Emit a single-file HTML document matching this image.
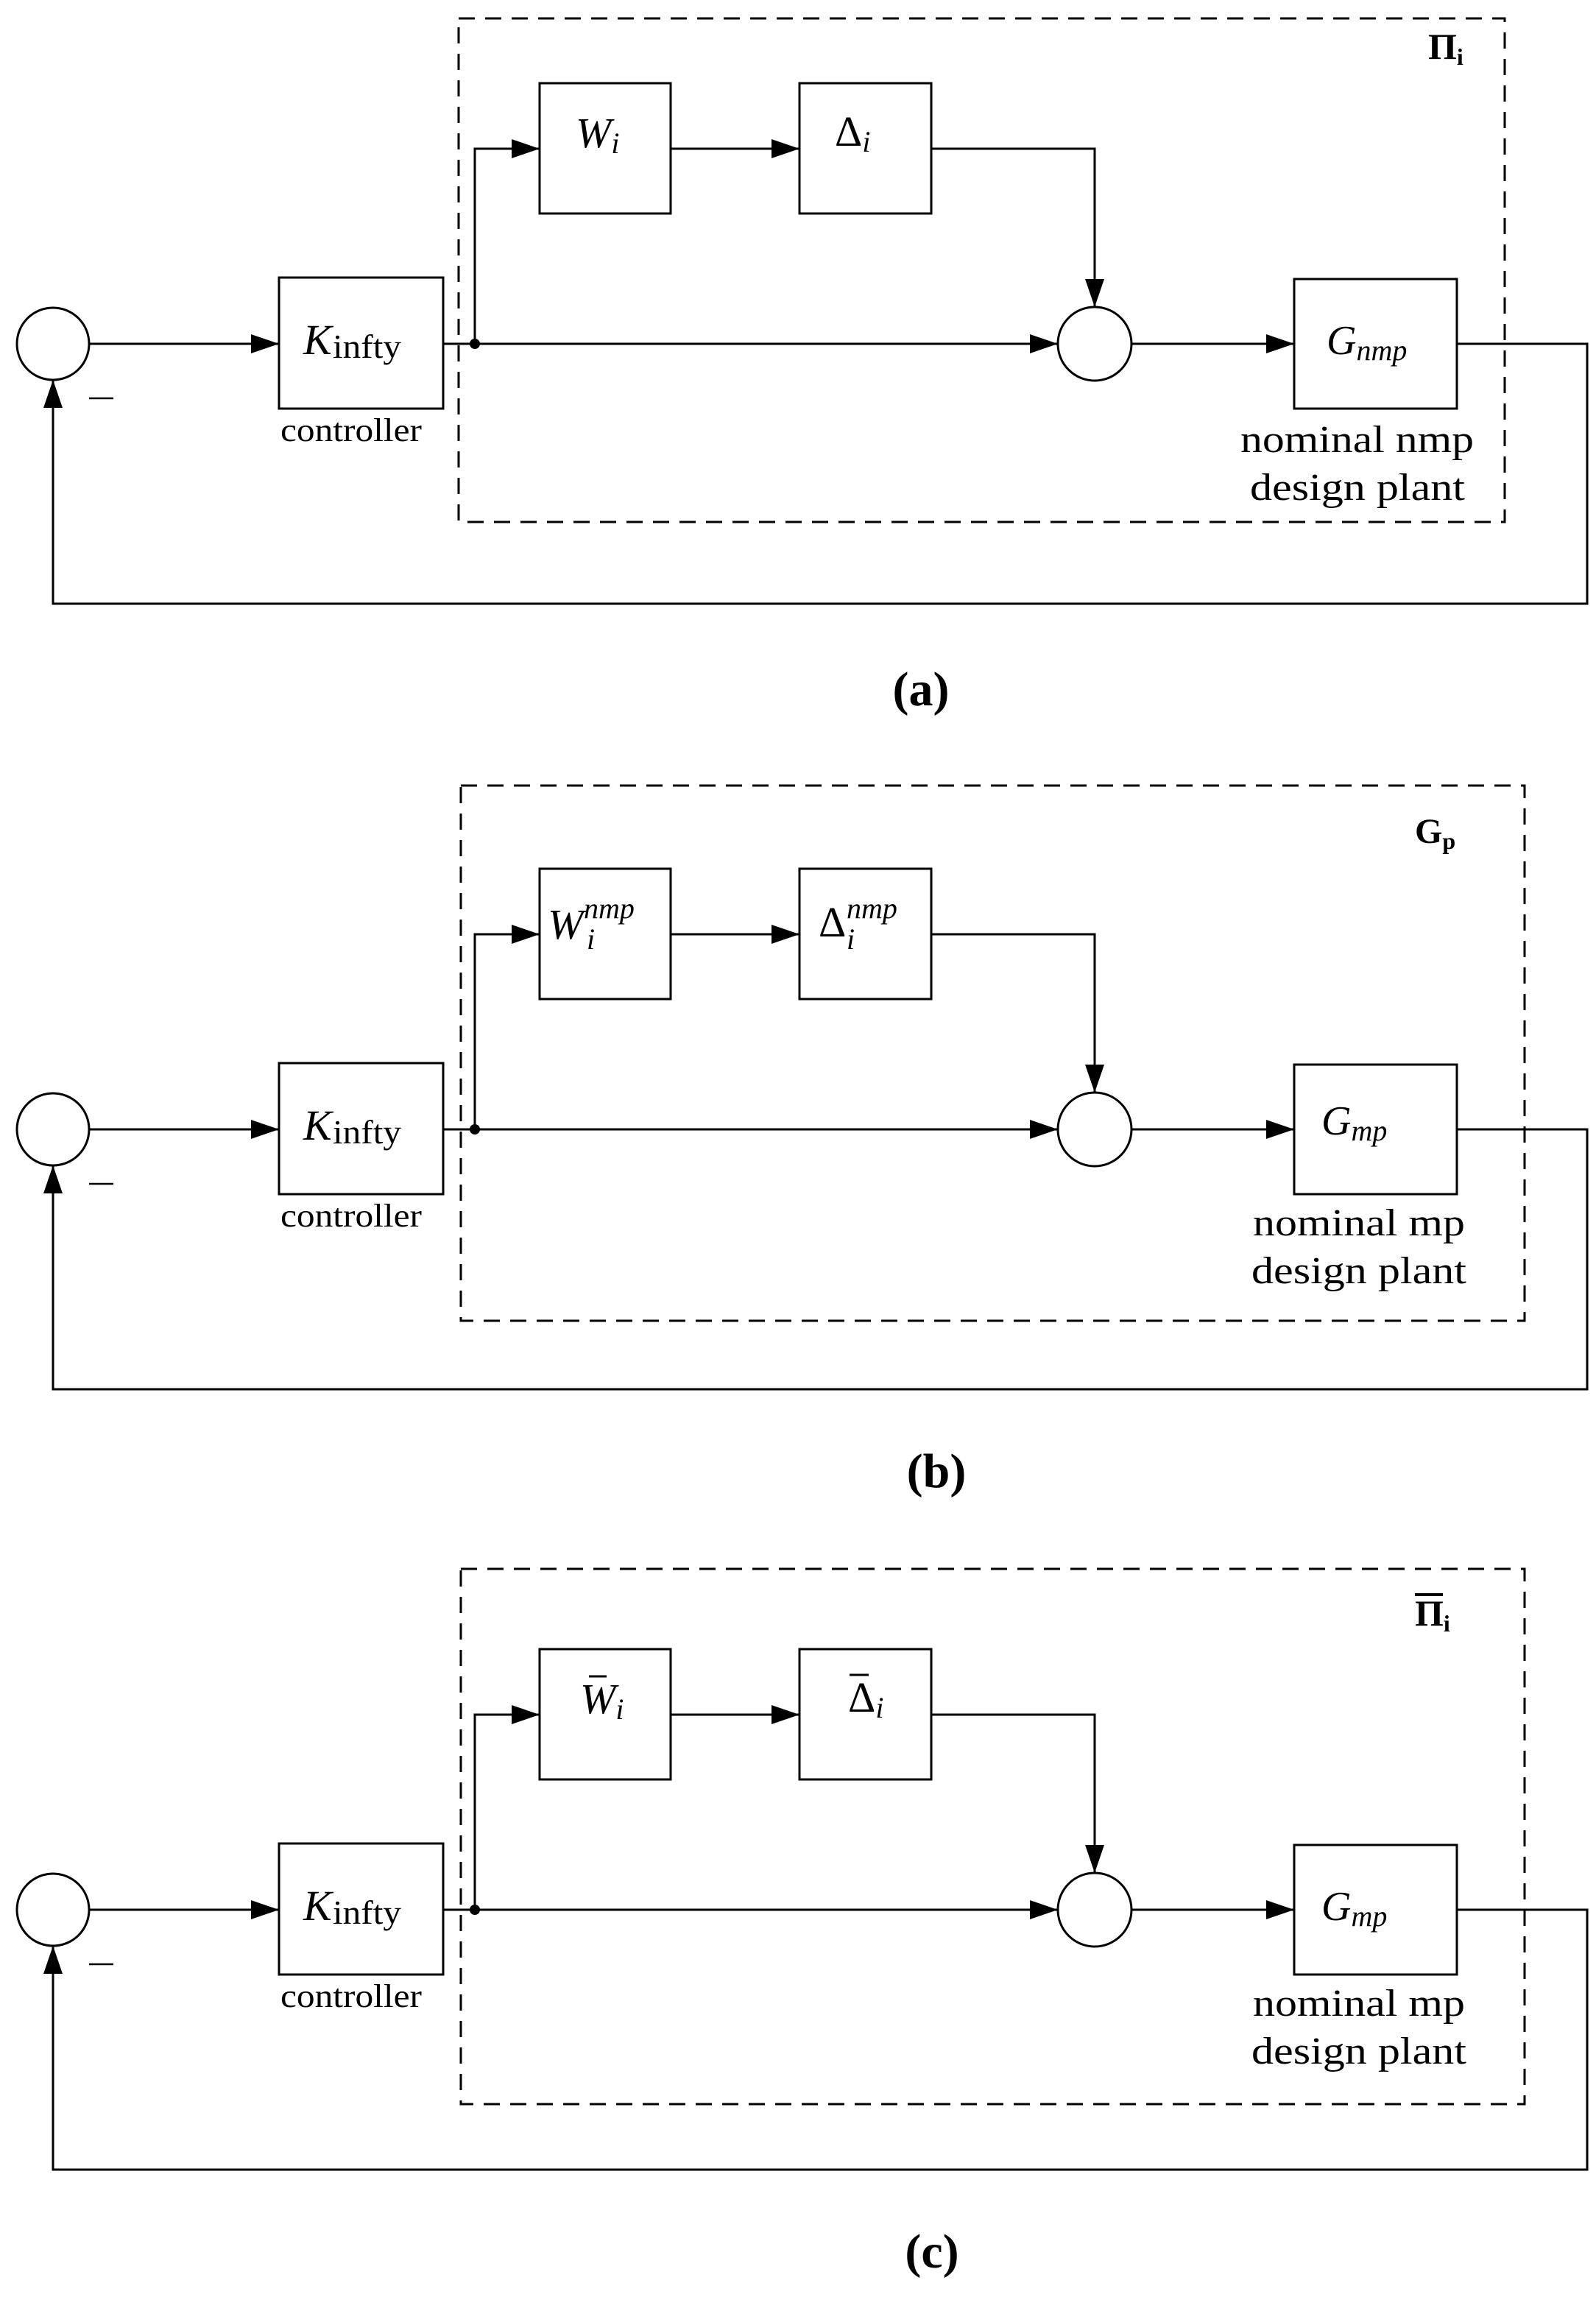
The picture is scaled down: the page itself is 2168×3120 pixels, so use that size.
<!DOCTYPE html>
<html><head><meta charset="utf-8"><style>
html,body{margin:0;padding:0;background:#fff;}
svg{display:block;}
text{font-family:"Liberation Serif","DejaVu Serif",serif;fill:#000;}
.m{font-style:italic;}
</style></head><body>
<svg width="2168" height="3120" viewBox="0 0 2168 3120" xmlns="http://www.w3.org/2000/svg">
<defs>
<g id="common" stroke="#000" stroke-width="3" fill="none">
  <circle cx="72" cy="467" r="49"/>
  <line x1="121" y1="467" x2="379" y2="467"/>
  <rect x="379" y="377" width="223" height="178"/>
  <line x1="602" y1="467" x2="645" y2="467"/>
  <polyline points="645,467 645,202 733,202"/>
  <rect x="733" y="113" width="178" height="177"/>
  <line x1="911" y1="202" x2="1086" y2="202"/>
  <rect x="1086" y="113" width="179" height="177"/>
  <polyline points="1265,202 1487,202 1487,417"/>
  <circle cx="1487" cy="467" r="50"/>
  <line x1="645" y1="467" x2="1437" y2="467"/>
  <line x1="1537" y1="467" x2="1758" y2="467"/>
  <rect x="1758" y="379" width="221" height="176"/>
  <polyline points="1979,467 2156,467 2156,820 72,820 72,516"/>
  <circle cx="645" cy="467" r="7" fill="#000" stroke="none"/>
  <g fill="#000" stroke="none">
    <polygon points="379,467 341,454 341,480"/>
    <polygon points="733,202 695,189 695,215"/>
    <polygon points="1086,202 1048,189 1048,215"/>
    <polygon points="1487,417 1474,379 1500,379"/>
    <polygon points="1437,467 1399,454 1399,480"/>
    <polygon points="1758,467 1720,454 1720,480"/>
    <polygon points="72,516 59,554 85,554"/>
  </g>
  <line x1="121" y1="541" x2="154" y2="541" stroke-width="2.5"/>
</g>
<g id="ktext">
  <text x="412" y="481" font-size="58" class="m">K</text>
  <text x="452" y="486" font-size="46" textLength="93" lengthAdjust="spacingAndGlyphs">infty</text>
  <text x="381" y="599" font-size="44" textLength="192" lengthAdjust="spacingAndGlyphs">controller</text>
</g>
</defs>

<!-- Panel a -->
<use href="#common"/>
<use href="#ktext"/>
<rect x="623" y="25" width="1421" height="684" fill="none" stroke="#000" stroke-width="3" stroke-dasharray="22,14"/>
<text x="1940" y="80" font-size="50" font-weight="bold">Π<tspan font-size="32" dy="8">i</tspan></text>
<text x="782" y="200" font-size="58" class="m">W<tspan font-size="40" dy="8">i</tspan></text>
<text x="1134" y="198" font-size="58">Δ<tspan font-size="40" dy="8" class="m">i</tspan></text>
<text x="1802" y="481" font-size="56" class="m">G<tspan font-size="40" dy="8">nmp</tspan></text>
<text x="1685" y="614" font-size="52" textLength="317" lengthAdjust="spacingAndGlyphs">nominal nmp</text>
<text x="1698" y="679" font-size="52" textLength="292" lengthAdjust="spacingAndGlyphs">design plant</text>
<text x="1251" y="958" font-size="66" font-weight="bold" text-anchor="middle">(a)</text>

<!-- Panel b -->
<g transform="translate(0,1067)">
<use href="#common"/>
<use href="#ktext"/>
<text x="744" y="208" font-size="58" class="m">W</text>
<text x="793" y="180" font-size="40" class="m">nmp</text>
<text x="797" y="222" font-size="40" class="m">i</text>
<text x="1112" y="205" font-size="58">Δ</text>
<text x="1150" y="180" font-size="40" class="m">nmp</text>
<text x="1150" y="222" font-size="40" class="m">i</text>
<text x="1795" y="474" font-size="56" class="m">G<tspan font-size="40" dy="8">mp</tspan></text>
<text x="1702" y="611" font-size="52" textLength="288" lengthAdjust="spacingAndGlyphs">nominal mp</text>
<text x="1700" y="676" font-size="52" textLength="292" lengthAdjust="spacingAndGlyphs">design plant</text>
</g>
<rect x="626" y="1067" width="1445" height="727" fill="none" stroke="#000" stroke-width="3" stroke-dasharray="22,14"/>
<text x="1922" y="1145" font-size="48" font-weight="bold">G<tspan font-size="32" dy="8">p</tspan></text>
<text x="1272" y="2020" font-size="66" font-weight="bold" text-anchor="middle">(b)</text>

<!-- Panel c -->
<g transform="translate(0,2127)">
<use href="#common"/>
<use href="#ktext"/>
<text x="788" y="200" font-size="58" class="m">W<tspan font-size="40" dy="8">i</tspan></text>
<line x1="800" y1="150" x2="824" y2="150" stroke="#000" stroke-width="3"/>
<text x="1152" y="198" font-size="58">Δ<tspan font-size="40" dy="8" class="m">i</tspan></text>
<line x1="1154" y1="148" x2="1180" y2="148" stroke="#000" stroke-width="3"/>
<text x="1795" y="481" font-size="56" class="m">G<tspan font-size="40" dy="8">mp</tspan></text>
<text x="1702" y="611" font-size="52" textLength="288" lengthAdjust="spacingAndGlyphs">nominal mp</text>
<text x="1700" y="676" font-size="52" textLength="292" lengthAdjust="spacingAndGlyphs">design plant</text>
</g>
<rect x="626" y="2131" width="1445" height="727" fill="none" stroke="#000" stroke-width="3" stroke-dasharray="22,14"/>
<text x="1922" y="2208" font-size="50" font-weight="bold">Π<tspan font-size="32" dy="8">i</tspan></text>
<line x1="1922" y1="2166" x2="1960" y2="2166" stroke="#000" stroke-width="4"/>
<text x="1266" y="3080" font-size="66" font-weight="bold" text-anchor="middle">(c)</text>
</svg>
</body></html>
